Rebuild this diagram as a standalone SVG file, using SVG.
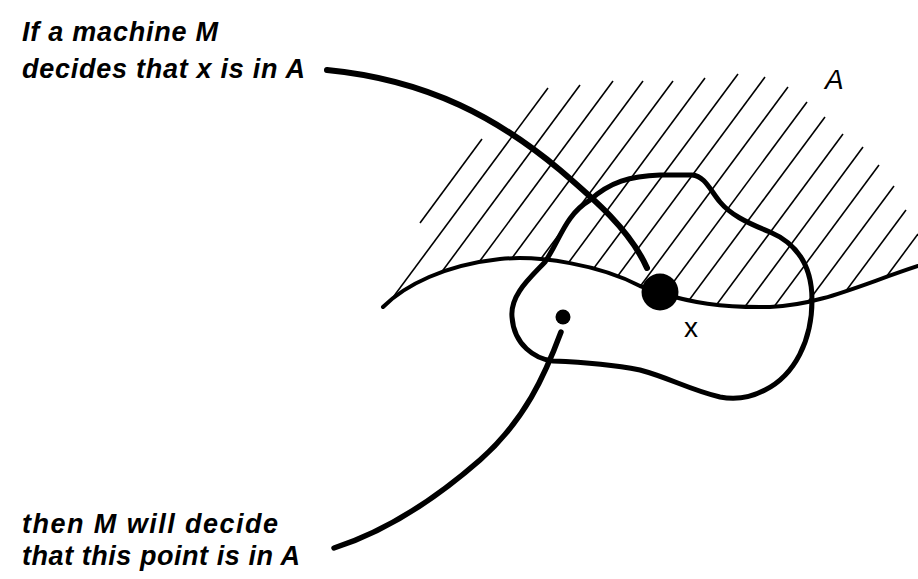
<svg xmlns="http://www.w3.org/2000/svg" width="918" height="579" viewBox="0 0 918 579">
  <style>
    .lbl { font-family: "Liberation Sans", Arial, sans-serif; font-style: italic; font-weight: bold; font-size: 27px; fill: #000; }
    .sym { font-family: "Liberation Sans", Arial, sans-serif; fill: #000; }
    .hatch line { stroke: #000; stroke-width: 1.6; }
    .thick { fill: none; stroke: #000; stroke-linecap: round; stroke-linejoin: round; }
  </style>
  <defs>
    <clipPath id="aboveBoundary">
      <path d="M383,307 C405,285 445,265 500,259 C540,255 600,265 640,286 L660,293 C690,302 720,308 770,307 C820,305 860,285 918,266 L918,0 L383,0 Z"/>
    </clipPath>
  </defs>
  <rect width="918" height="579" fill="#fff"/>

  <g id="region-A">
    <g class="hatch">
      <line x1="420" y1="223" x2="482" y2="139"/>
      <g clip-path="url(#aboveBoundary)">
        <line x1="548" y1="88" x2="317" y2="400"/>
        <line x1="580" y1="85" x2="347" y2="400"/>
        <line x1="613" y1="81" x2="377" y2="400"/>
        <line x1="643" y1="81" x2="407" y2="400"/>
        <line x1="673" y1="81" x2="436" y2="400"/>
        <line x1="705" y1="78" x2="467" y2="400"/>
        <line x1="738" y1="74" x2="496" y2="400"/>
        <line x1="765" y1="77" x2="526" y2="400"/>
        <line x1="788" y1="87" x2="556" y2="400"/>
        <line x1="807" y1="102" x2="586" y2="400"/>
        <line x1="825" y1="117" x2="615" y2="400"/>
        <line x1="843" y1="134" x2="646" y2="400"/>
        <line x1="863" y1="147" x2="676" y2="400"/>
        <line x1="879" y1="165" x2="705" y2="400"/>
        <line x1="894" y1="186" x2="735" y2="400"/>
        <line x1="906" y1="210" x2="765" y2="400"/>
        <line x1="918" y1="234" x2="795" y2="400"/>
      </g>
    </g>
    <path class="thick" stroke-width="4" d="M383,307 C405,285 445,265 500,259 C540,255 600,265 640,286 L660,293 C690,302 720,308 770,307 C820,305 860,285 918,266"/>
    <text class="sym" x="825" y="89" font-size="28" font-style="italic">A</text>
  </g>

  <g id="neighbourhood">
    <path class="thick" stroke-width="5" d="M512,317 C510,295 530,278 545,262 C560,240 565,215 590,200 C610,182 630,176 660,175 L692,175 C705,176 710,190 720,202 C730,214 745,222 770,232 C800,245 812,270 812,300 C812,340 795,375 765,390 C750,398 735,400 720,397 C690,390 670,378 640,370 C610,364 580,362 553,361 C535,359 514,345 512,317 Z"/>
  </g>

  <g id="point-x">
    <circle cx="660" cy="292" r="18.5" fill="#000"/>
    <text class="sym" x="684" y="337" font-size="28">x</text>
  </g>

  <g id="point-near">
    <circle cx="563" cy="317" r="7.5" fill="#000"/>
  </g>

  <g id="label-top">
    <text class="lbl" x="22" y="41" textLength="196" lengthAdjust="spacing">If a machine M</text>
    <text class="lbl" x="22" y="78" textLength="283" lengthAdjust="spacing">decides that x is in A</text>
  </g>

  <g id="label-bottom">
    <text class="lbl" x="22" y="533" textLength="256" lengthAdjust="spacing">then M will decide</text>
    <text class="lbl" x="22" y="565" textLength="278" lengthAdjust="spacing">that this point is in A</text>
  </g>

  <g id="connectors">
    <path class="thick" stroke-width="6" d="M327,70 C430,80 500,120 560,170 C595,200 630,230 647,268"/>
    <path class="thick" stroke-width="5.5" d="M561,332 C545,375 525,420 480,460 C440,495 390,530 334,548"/>
  </g>
</svg>
